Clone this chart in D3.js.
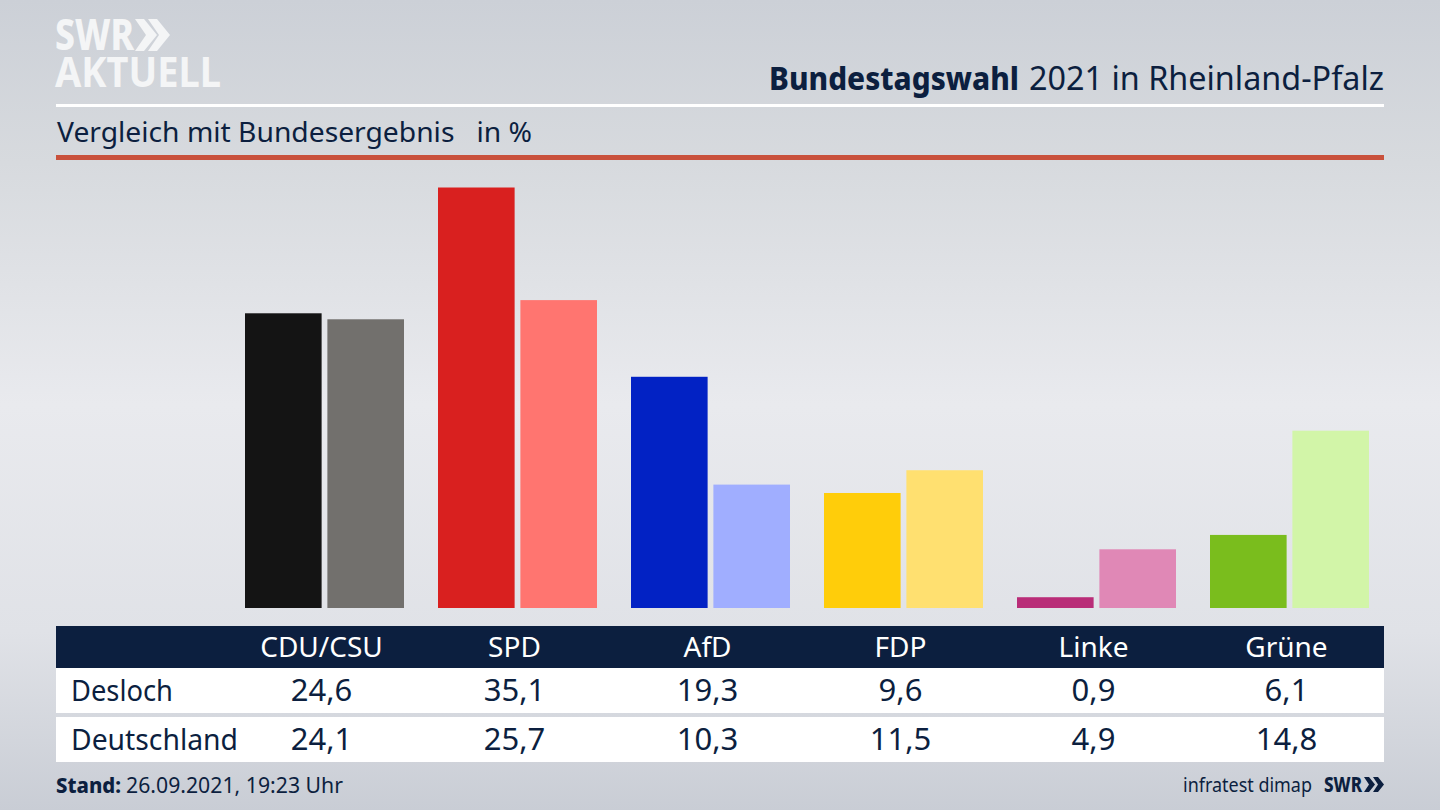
<!DOCTYPE html>
<html>
<head>
<meta charset="utf-8">
<script src="https://cdn.jsdelivr.net/npm/d3@7"></script>
<style>
html, body { margin: 0; padding: 0; background: #d4d7dc; overflow: hidden; }
svg { display: block; }
text { font-family: "Noto Sans", sans-serif; fill: #0c1f3f; }
</style>
</head>
<body>
<svg width="1440" height="810"></svg>
<script>
var parties = ["CDU/CSU", "SPD", "AfD", "FDP", "Linke", "Grüne"]
var regions = ["Desloch", "Deutschland"]
var deslochValues = [24.6, 35.1, 19.3, 9.6, 0.9, 6.1]
var deutschlandValues = [24.1, 25.7, 10.3, 11.5, 4.9, 14.8]
var deslochColors = ["#141414", "#d9201f", "#0222c4", "#ffcd0a", "#b92d78", "#7abd1d"]
var deutschlandColors = ["#72706d", "#ff7570", "#a0aeff", "#ffe070", "#e088b6", "#d2f5a8"]

var navy = "#0c1f3f"
var fmt = function(v) { return v.toFixed(1).replace(".", ",") }

var svg = d3.select("svg")
var defs = svg.append("defs")

// squeezes a text to the width it has in the picture
var fitted = function(xPos, yPos, size, width, str) {
    return svg.append("text").attr("x", xPos).attr("y", yPos)
        .style("font-size", size + "px").style("white-space", "pre")
        .attr("textLength", width).attr("lengthAdjust", "spacingAndGlyphs")
        .text(str)
}

// vertical background, lightest just under the middle
var grad = defs.append("linearGradient").attr("id", "bg")
    .attr("x1", 0).attr("y1", 0).attr("x2", 0).attr("y2", 1)
grad.selectAll("stop")
    .data([[0, "#ccd0d7"], [0.2, "#d7dade"], [0.5, "#e9eaee"], [0.78, "#e0e2e7"], [1, "#c9cdd5"]])
    .join("stop")
    .attr("offset", function(d) { return d[0] })
    .attr("stop-color", function(d) { return d[1] })
svg.append("rect").attr("width", 1440).attr("height", 810).attr("fill", "url(#bg)")

// logo, the two lines sit tight on purpose
fitted(55, 50, 42, 79, "SWR").style("fill", "#f4f5f6").style("font-weight", 800)
fitted(55, 87, 42, 166, "AKTUELL").style("fill", "#f4f5f6").style("font-weight", 700)
var chevron = "M0,0 L9,0 L22,16 L9,32 L0,32 L11,16 Z"
svg.append("path").attr("d", chevron).attr("fill", "#f4f5f6").attr("transform", "translate(135,19)")
svg.append("path").attr("d", chevron).attr("fill", "#f4f5f6").attr("transform", "translate(148,19)")

// header
fitted(769, 90, 32, 250, "Bundestagswahl").style("font-weight", 800)
fitted(1029, 90, 32, 355, "2021 in Rheinland-Pfalz")
svg.append("rect").attr("x", 56).attr("y", 104).attr("width", 1328).attr("height", 3).attr("fill", "#fff")
fitted(57, 142, 28, 475, "Vergleich mit Bundesergebnis   in %")
svg.append("rect").attr("x", 56).attr("y", 155).attr("width", 1328).attr("height", 5).attr("fill", "#c9513c")

// bars
var x = d3.scaleBand().domain(parties).range([228, 1386])
var xInner = d3.scaleBand().domain(regions).range([17, 176]).paddingInner(0.07)
var y = d3.scaleLinear().domain([0, 35.1]).range([608, 187.5])

var rows = [deslochValues, deutschlandValues]
var colors = [deslochColors, deutschlandColors]
regions.forEach(function(region, r) {
    svg.append("g").selectAll("rect")
        .data(parties)
        .join("rect")
        .attr("x", function(p) { return x(p) + xInner(region) })
        .attr("width", xInner.bandwidth())
        .attr("y", function(p, i) { return y(rows[r][i]) })
        .attr("height", function(p, i) { return y(0) - y(rows[r][i]) })
        .attr("fill", function(p, i) { return colors[r][i] })
})

// table under the bars
var labelX = function(p) { return x(p) + x.bandwidth() / 2 - 3 }
svg.append("rect").attr("x", 56).attr("y", 626).attr("width", 1328).attr("height", 42).attr("fill", navy)
svg.append("g").selectAll("text")
    .data(parties)
    .join("text")
    .attr("x", labelX).attr("y", 657)
    .attr("text-anchor", "middle")
    .style("font-size", "28px").style("fill", "#fff")
    .text(function(p) { return p })

var rowTop = [668, 717]
var rowBase = [701, 750]
var rowLabelWidth = [102, 167]
regions.forEach(function(region, r) {
    svg.append("rect").attr("x", 56).attr("y", rowTop[r]).attr("width", 1328).attr("height", 45).attr("fill", "#fff")
    fitted(71, rowBase[r], 28.6, rowLabelWidth[r], region)
    svg.append("g").selectAll("text")
        .data(parties)
        .join("text")
        .attr("x", labelX).attr("y", rowBase[r])
        .attr("text-anchor", "middle")
        .style("font-size", "31px")
        .text(function(p, i) { return fmt(rows[r][i]) })
})

// footer
fitted(56, 793, 22, 65, "Stand:").style("font-weight", 800)
fitted(126, 793, 22, 217, "26.09.2021, 19:23 Uhr")
fitted(1183, 792, 20, 129, "infratest dimap")
fitted(1324, 792, 21, 38, "SWR").style("font-weight", 800)
var small = "M0,0 L5,0 L11,7.5 L5,15 L0,15 L5,7.5 Z"
svg.append("path").attr("d", small).attr("fill", navy).attr("transform", "translate(1364,777)")
svg.append("path").attr("d", small).attr("fill", navy).attr("transform", "translate(1373,777)")
</script>
</body>
</html>
